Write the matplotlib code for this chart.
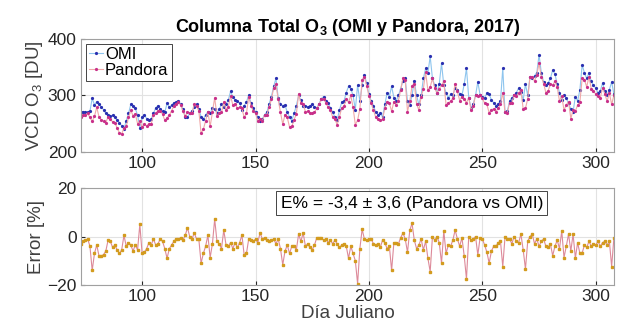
import numpy as np
import matplotlib
matplotlib.use('Agg')
import matplotlib.pyplot as plt

plt.rcParams['font.family'] = ['Liberation Sans', 'DejaVu Sans']
plt.rcParams['mathtext.default'] = 'regular'

# Julian days
dias = np.arange(73, 309)

# OMI total column O3 [DU]
omi = [270, 271, 270, 271, 272, 295, 283, 289, 285, 279,
       275, 268, 266, 263, 265, 261, 256, 252, 246, 241,
       255, 268, 284, 281, 277, 265, 243, 262, 266, 259,
       256, 258, 268, 278, 282, 276, 272, 270, 286, 279,
       283, 287, 288, 291, 284, 276, 262, 262, 268, 272,
       280, 284, 276, 262, 258, 266, 270, 268, 278, 276,
       268, 276, 284, 280, 285, 292, 307, 298, 292, 290,
       286, 275, 282, 288, 301, 286, 278, 271, 262, 255,
       258, 266, 270, 285, 298, 316, 330, 296, 284, 282,
       283, 270, 262, 255, 268, 282, 300, 292, 281, 282,
       280, 281, 284, 280, 278, 285, 294, 298, 290, 286,
       278, 270, 262, 256, 274, 288, 290, 305, 316, 312,
       300, 275, 318, 290, 318, 336, 322, 302, 290, 282,
       270, 266, 268, 262, 284, 304, 298, 316, 296, 290,
       300, 312, 326, 330, 290, 283, 300, 326, 300, 284,
       300, 330, 348, 340, 369, 330, 318, 304, 320, 357,
       318, 304, 296, 302, 300, 313, 310, 303, 300, 320,
       348, 296, 278, 285, 300, 324, 301, 298, 296, 304,
       302, 292, 287, 282, 285, 290, 348, 270, 272, 290,
       296, 300, 305, 313, 306, 292, 320, 300, 333, 330,
       335, 340, 372, 340, 324, 318, 322, 330, 345, 338,
       320, 305, 292, 300, 295, 286, 276, 271, 298, 290,
       310, 354, 340, 330, 340, 325, 318, 313, 305, 308,
       322, 308, 301, 310, 324, 302]

# Pandora total column O3 [DU]
pandora = [262, 266, 266, 268, 261, 254, 263, 279, 262, 257,
           254, 252, 262, 258, 253, 252, 242, 234, 232, 242,
           245, 261, 274, 264, 267, 250, 255, 244, 249, 246,
           250, 249, 265, 268, 273, 273, 267, 256, 260, 265,
           273, 281, 285, 288, 283, 272, 263, 271, 268, 269,
           284, 281, 273, 233, 240, 255, 271, 245, 270, 296,
           263, 268, 270, 288, 275, 280, 299, 283, 285, 277,
           279, 277, 261, 268, 298, 282, 272, 268, 255, 259,
           255, 265, 266, 279, 293, 313, 320, 293, 270, 249,
           266, 261, 244, 245, 257, 267, 303, 286, 285, 271,
           272, 268, 268, 270, 277, 284, 293, 294, 287, 279,
           274, 262, 258, 248, 262, 278, 281, 293, 288, 300,
           279, 248, 256, 276, 328, 333, 317, 299, 287, 274,
           261, 258, 256, 258, 277, 289, 286, 272, 289, 283,
           291, 310, 331, 327, 271, 290, 317, 321, 285, 274,
           297, 312, 341, 309, 315, 330, 313, 304, 312, 318,
           325, 283, 286, 290, 295, 321, 307, 291, 298, 294,
           287, 296, 274, 282, 300, 299, 300, 295, 286, 284,
           269, 275, 276, 271, 278, 284, 305, 270, 269, 287,
           287, 300, 299, 305, 309, 276, 277, 294, 333, 333,
           325, 337, 357, 333, 321, 305, 308, 320, 318, 325,
           315, 290, 299, 274, 283, 289, 259, 274, 272, 283,
           288, 330, 328, 315, 333, 312, 308, 302, 299, 296,
           314, 302, 290, 304, 284, 300]

# Relative difference Pandora vs OMI [%]
error = [-3, -2, -1.5, -1, -4, -14, -7, -3.5, -8, -8,
         -7.5, -6, -1.5, -2, -4.5, -3.5, -5.5, -7, -5.5, 0.5,
         -4, -2.5, -3.5, -6, -3.5, -5.5, 5, -7, -6.5, -5,
         -2.5, -3.5, -1, -3.5, -3, -1, -2, -5, -9, -5,
         -3.5, -2, -1, -1, -0.5, -1.5, 0.5, 3.6, 0, -1,
         1.5, -1, -1, -11, -7, -4, 0.5, -8.7, -3, 7.2,
         -2, -3, -5, 2.7, -3.5, -4, -2.5, -5, -2.5, -4.5,
         -2.5, 0.6, -7.6, -7, -1, -1.5, -2, -1, -2.5, 1.5,
         -1, -0.5, -1.5, -2, -1.5, -1, -3, -1, -5, -11.7,
         -6, -3.5, -7, -4, -4, -5.5, 1, -2, 1.5, -4,
         -3, -4.5, -5.5, -3.5, -0.5, -0.5, -0.5, -1.5, -1, -2.5,
         -1.5, -3, -1.5, -3, -4.5, -3.5, -3, -4, -9, -4,
         -7, -10, -19.5, -5, 3, -1, -1.5, -1, -1, -3,
         -3.5, -3, -4.5, -1.5, -2.5, -5, -4, -14, -2.5, -2.5,
         -3, -0.5, 1.5, -1, -6.5, 2.5, 5.5, -1.5, -5, -3.5,
         -1, -5.5, -2, -9, -14.5, 0, -1.5, 0, -2.5, -11,
         2.3, -7, -3.5, -4, -1.5, 2.7, -1, -4, -0.5, -8,
         -17.5, 0, -1.5, -1, 0, -7.6, -0.5, -1, -3.5, -6.5,
         -11, -6, -4, -4, -2.5, -2, -12.4, 0, -1, -1,
         -3, 0, -2, -2.5, 1, -5.5, -13.4, -2, 0, 1,
         -3, -1, -4, -2, -1, -4, -4.5, -3, -7.9, -4,
         -1.5, -5, 2.3, -8.7, -4, 1, -6, 1, -8.9, -2.5,
         -7, -6.8, -3.5, -4.5, -2, -4, -3, -3.5, -2, -4,
         -2.5, -2, -3.5, -2, -12.4, -0.5]

fig = plt.figure(figsize=(6.22, 3.36), dpi=100)
ax1 = fig.add_axes([0.130, 0.548, 0.857, 0.336])
ax2 = fig.add_axes([0.130, 0.152, 0.857, 0.288])

ax1.plot(dias, omi, '-', color='#8ec5ee', lw=0.8, marker='.', ms=2.6,
         mfc='#2a2fb0', mec='#2a2fb0', label='OMI')
ax1.plot(dias, pandora, '-', color='#f0a8a8', lw=0.8, marker='.', ms=2.6,
         mfc='#c8308a', mec='#c8308a', label='Pandora')
ax1.set_ylim(200, 400)
ax1.set_yticks([200, 300, 400])
ax1.set_ylabel('VCD O$_3$ [DU]', fontsize=13.5, color='#404040', labelpad=2)
ax1.set_title('Columna Total O$_3$ (OMI y Pandora, 2017)', fontsize=13,
              fontweight='bold', pad=5)
leg = ax1.legend(loc='upper left', fontsize=12, handlelength=0.8,
                 handletextpad=0.15, borderpad=0.2, labelspacing=0.05,
                 fancybox=False, edgecolor='#262626', framealpha=1,
                 borderaxespad=0.3)
leg.get_frame().set_linewidth(0.6)

ax2.plot(dias, error, '-', color='#dd8a9a', lw=0.8, marker='s', ms=1.8,
         mfc='#d39b1e', mec='#d39b1e')
ax2.set_ylim(-20, 20)
ax2.set_yticks([-20, 0, 20])
ax2.set_ylabel('Error [%]', fontsize=13.5, color='#404040', labelpad=2)
ax2.set_xlabel('Día Juliano', fontsize=13.5, color='#404040', labelpad=1)
ax2.text(0.375, 0.845, 'E% = -3,4 ± 3,6 (Pandora vs OMI)',
         transform=ax2.transAxes, fontsize=12.5, ha='left', va='center',
         bbox=dict(boxstyle='square,pad=0.25', fc='white', ec='#262626', lw=0.6))

for ax in (ax1, ax2):
    ax.set_xlim(73, 308)
    ax.set_xticks([100, 150, 200, 250, 300])
    ax.grid(True, color='#e2e2e2', lw=0.8)
    ax.set_axisbelow(True)
    ax.tick_params(direction='in', labelsize=12.5, colors='#262626',
                   length=3, pad=3)
    for s in ax.spines.values():
        s.set_color('#a0a0a0')
        s.set_linewidth(0.8)

fig.savefig('out.png', dpi=100)
